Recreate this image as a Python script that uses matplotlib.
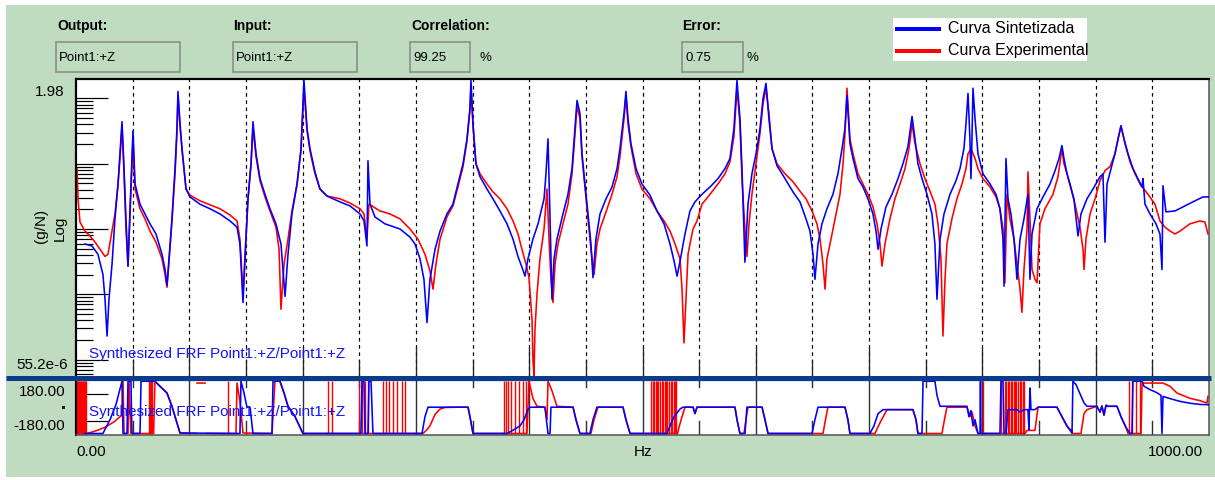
import numpy as np
import matplotlib
matplotlib.use('Agg')
import matplotlib.pyplot as plt
from matplotlib.lines import Line2D
from matplotlib.patches import Rectangle
from matplotlib.ticker import LogLocator, FixedLocator, NullFormatter

plt.rcParams['font.family'] = ['Liberation Sans', 'DejaVu Sans']

# ---------------- data ----------------
# Synthesized FRF magnitude (Hz, g/N)
blue_mag_hz = [
    7.9, 14.1, 19.4, 23.8, 25.6, 27.4, 29.1, 31.8, 34.4, 37.1,
    38.8, 40.6, 42.4, 44.1, 45.9, 47.7, 49.4, 50.3, 52.1, 56.5,
    60.9, 65.3, 70.6, 75.9, 78.6, 80.3, 82.1, 84.7, 87.4, 89.1,
    90.0, 91.8, 93.6, 97.1, 100.6, 109.4, 118.3, 127.1, 135.9, 142.1,
    144.7, 147.4, 150.0, 151.8, 154.5, 156.2, 158.9, 162.4, 166.8, 171.2,
    176.5, 180.9, 184.5, 187.1, 190.6, 195.1, 198.6, 201.2, 203.9, 206.5,
    210.9, 215.3, 221.5, 233.0, 241.8, 250.7, 254.2, 256.8, 257.7, 259.5,
    263.9, 272.7, 286.0, 294.8, 299.2, 303.6, 307.1, 309.8, 312.4, 316.9,
    321.3, 327.4, 332.7, 337.1, 341.6, 345.1, 347.7, 348.6, 350.4, 353.0,
    356.6, 362.7, 368.0, 374.2, 380.4, 385.7, 390.1, 393.6, 396.3, 398.9,
    403.3, 407.8, 413.1, 414.8, 416.6, 418.4, 420.1, 421.9, 424.5, 429.8,
    434.2, 437.8, 440.4, 442.2, 444.8, 446.6, 449.2, 451.9, 454.5, 456.3,
    458.9, 462.5, 467.8, 473.1, 477.5, 480.1, 483.7, 485.4, 487.2, 489.8,
    494.3, 499.5, 506.6, 512.8, 519.0, 524.3, 527.9, 530.5, 533.1, 537.5,
    541.9, 546.3, 552.5, 559.6, 566.6, 572.8, 577.2, 580.7, 583.4, 586.0,
    587.8, 590.4, 593.1, 596.6, 600.2, 603.7, 606.4, 609.0, 611.6, 614.3,
    618.7, 625.8, 632.8, 639.0, 644.3, 647.8, 650.5, 652.2, 654.9, 658.4,
    662.8, 668.1, 672.5, 676.1, 678.7, 680.5, 683.1, 685.8, 690.2, 694.6,
    699.0, 703.4, 706.1, 707.9, 710.5, 714.9, 720.2, 725.5, 729.9, 734.3,
    737.0, 737.9, 740.5, 743.1, 746.7, 751.1, 755.5, 758.1, 759.9, 762.6,
    766.1, 771.4, 776.7, 780.2, 783.7, 785.5, 787.3, 789.0, 789.9, 790.8,
    791.7, 793.5, 796.1, 800.5, 806.7, 812.0, 815.5, 818.2, 819.1, 819.9,
    820.8, 822.6, 825.2, 827.9, 830.5, 833.2, 836.7, 840.2, 842.0, 843.8,
    848.2, 853.5, 859.7, 864.1, 867.6, 870.2, 872.0, 874.7, 877.3, 880.8,
    884.4, 887.0, 892.3, 897.6, 903.8, 906.4, 908.2, 910.0, 913.5, 917.0,
    919.7, 922.3, 925.0, 928.5, 932.9, 937.3, 940.9, 941.7, 943.5, 947.9,
    953.2, 956.7, 958.5, 959.4, 962.0, 970.0, 978.8, 987.6, 994.7, 1000.0]
blue_mag = [
    0.0059, 0.0055, 0.0041, 0.0020, 0.00084, 0.00023, 0.00084, 0.0029, 0.0143, 0.049,
    0.142, 0.44, 0.084, 0.0143, 0.0027, 0.0204, 0.12, 0.32, 0.049, 0.024,
    0.017, 0.012, 0.0084, 0.0041, 0.0024, 0.00137, 0.0035, 0.0143, 0.084, 0.345,
    1.28, 0.41, 0.17, 0.041, 0.031, 0.024, 0.0204, 0.017, 0.0133, 0.0107,
    0.0059, 0.00075, 0.0070, 0.029, 0.10, 0.44, 0.142, 0.059, 0.034, 0.0204,
    0.012, 0.0059, 0.00093, 0.0041, 0.017, 0.049, 0.17, 1.89, 0.345, 0.17,
    0.075, 0.041, 0.032, 0.026, 0.0226, 0.017, 0.0133, 0.0055, 0.111, 0.024,
    0.0153, 0.012, 0.010, 0.0075, 0.0059, 0.0035, 0.0017, 0.00037, 0.0017, 0.0049,
    0.0093, 0.017, 0.024, 0.049, 0.10, 0.24, 0.70, 1.89, 0.41, 0.10,
    0.063, 0.041, 0.029, 0.0189, 0.012, 0.0070, 0.0038, 0.0026, 0.0019, 0.0035,
    0.0070, 0.012, 0.029, 0.070, 0.24, 0.0143, 0.00084, 0.0035, 0.0070, 0.017,
    0.034, 0.084, 0.345, 0.93, 0.59, 0.142, 0.049, 0.017, 0.0059, 0.0018,
    0.0070, 0.017, 0.029, 0.044, 0.084, 0.17, 0.59, 1.28, 0.49, 0.203,
    0.084, 0.049, 0.033, 0.0189, 0.012, 0.0059, 0.0032, 0.0019, 0.0032, 0.0084,
    0.0189, 0.026, 0.034, 0.044, 0.059, 0.084, 0.12, 0.345, 1.89, 0.49,
    0.084, 0.0031, 0.024, 0.070, 0.142, 0.345, 1.0, 1.70, 0.49, 0.17,
    0.093, 0.059, 0.037, 0.026, 0.0143, 0.0093, 0.0041, 0.0017, 0.0059, 0.012,
    0.0204, 0.034, 0.070, 0.17, 0.345, 1.11, 0.203, 0.12, 0.059, 0.044,
    0.029, 0.017, 0.0093, 0.0049, 0.010, 0.0218, 0.034, 0.059, 0.10, 0.183,
    0.41, 0.53, 0.24, 0.10, 0.059, 0.034, 0.017, 0.0059, 0.00084, 0.0070,
    0.017, 0.034, 0.055, 0.084, 0.17, 0.41, 1.19, 0.24, 0.059, 0.24,
    1.43, 0.49, 0.142, 0.070, 0.049, 0.034, 0.0204, 0.0070, 0.00133, 0.010,
    0.12, 0.029, 0.017, 0.0070, 0.0017, 0.0070, 0.0143, 0.034, 0.0017, 0.0084,
    0.0204, 0.031, 0.049, 0.078, 0.12, 0.19, 0.12, 0.070, 0.049, 0.029,
    0.0078, 0.017, 0.029, 0.041, 0.063, 0.070, 0.0063, 0.049, 0.084, 0.142,
    0.24, 0.38, 0.24, 0.142, 0.084, 0.059, 0.044, 0.059, 0.024, 0.017,
    0.012, 0.0084, 0.0024, 0.046, 0.0183, 0.0189, 0.0226, 0.027, 0.031, 0.031]

# Experimental FRF magnitude (Hz, g/N)
red_mag_hz = [
    0.9, 1.8, 3.5, 7.9, 12.4, 16.8, 21.2, 25.6, 28.2, 31.8,
    34.4, 37.1, 38.8, 40.6, 42.4, 44.1, 45.9, 47.7, 49.4, 50.3,
    52.1, 56.5, 60.9, 65.3, 70.6, 75.9, 78.6, 80.3, 82.1, 84.7,
    87.4, 89.1, 90.0, 91.8, 93.6, 97.1, 100.6, 109.4, 118.3, 127.1,
    135.9, 142.1, 144.7, 147.4, 150.0, 151.8, 154.5, 156.2, 158.9, 162.4,
    166.8, 171.2, 176.5, 179.2, 180.9, 183.6, 187.1, 190.6, 195.1, 198.6,
    201.2, 203.9, 206.5, 210.9, 215.3, 221.5, 233.0, 241.8, 250.7, 254.2,
    256.8, 258.6, 261.2, 268.3, 277.1, 286.0, 294.8, 301.8, 308.0, 312.4,
    315.1, 317.7, 321.3, 327.4, 332.7, 337.1, 341.6, 345.1, 347.7, 348.6,
    350.4, 353.0, 356.6, 362.7, 368.0, 374.2, 380.4, 385.7, 390.1, 393.6,
    397.2, 399.8, 402.5, 403.3, 404.2, 405.1, 406.9, 409.5, 413.1, 415.7,
    417.5, 419.2, 421.0, 422.8, 425.4, 429.8, 434.2, 437.8, 440.4, 442.2,
    444.8, 446.6, 449.2, 451.9, 454.5, 457.2, 459.8, 462.5, 467.8, 473.1,
    477.5, 480.1, 483.7, 485.4, 487.2, 489.8, 494.3, 499.5, 506.6, 512.8,
    519.0, 524.3, 528.7, 533.1, 534.9, 536.6, 538.4, 540.2, 541.9, 544.6,
    548.1, 552.5, 559.6, 566.6, 572.8, 577.2, 580.7, 583.4, 586.0, 587.8,
    590.4, 592.2, 594.0, 596.6, 600.2, 603.7, 606.4, 609.0, 611.6, 614.3,
    618.7, 625.8, 632.8, 639.0, 644.3, 649.6, 654.0, 656.7, 659.3, 661.1,
    662.8, 665.5, 669.9, 674.3, 677.0, 678.7, 680.5, 683.1, 685.8, 690.2,
    694.6, 699.0, 703.4, 707.0, 709.6, 711.4, 714.0, 718.4, 722.8, 727.3,
    731.7, 735.2, 737.9, 740.5, 744.9, 749.3, 753.7, 758.1, 760.8, 763.4,
    765.2, 767.0, 768.7, 773.1, 777.5, 782.0, 785.5, 787.3, 789.9, 793.5,
    796.1, 800.5, 806.7, 812.0, 815.5, 818.2, 819.9, 821.7, 824.3, 827.9,
    830.5, 833.2, 834.9, 836.7, 839.4, 840.2, 842.0, 843.8, 846.4, 848.2,
    850.8, 855.2, 862.3, 866.7, 870.2, 872.0, 874.7, 878.2, 881.7, 886.1,
    888.8, 889.7, 891.4, 895.0, 899.4, 903.8, 908.2, 912.6, 917.0, 922.3,
    925.8, 930.3, 934.7, 939.1, 946.1, 952.3, 956.7, 961.1, 965.6, 970.0,
    974.4, 983.2, 992.0, 996.4, 999.1]
red_mag = [
    0.084, 0.029, 0.0128, 0.0093, 0.0078, 0.0063, 0.0049, 0.0038, 0.0041, 0.0093,
    0.017, 0.049, 0.12, 0.37, 0.070, 0.010, 0.0027, 0.017, 0.10, 0.24,
    0.041, 0.0204, 0.0143, 0.0093, 0.0063, 0.0035, 0.0020, 0.00128, 0.0032, 0.0133,
    0.070, 0.29, 1.11, 0.37, 0.158, 0.041, 0.033, 0.027, 0.0235, 0.0204,
    0.0164, 0.0133, 0.0070, 0.00101, 0.0075, 0.029, 0.10, 0.345, 0.128, 0.055,
    0.031, 0.0189, 0.0107, 0.0049, 0.00059, 0.0029, 0.0070, 0.0189, 0.049, 0.158,
    1.43, 0.32, 0.158, 0.070, 0.041, 0.032, 0.029, 0.025, 0.0204, 0.017,
    0.0070, 0.024, 0.0226, 0.0189, 0.017, 0.0143, 0.010, 0.0070, 0.0041, 0.0023,
    0.0012, 0.0029, 0.0070, 0.0153, 0.0226, 0.044, 0.09, 0.226, 0.65, 1.53,
    0.37, 0.10, 0.070, 0.049, 0.037, 0.029, 0.0204, 0.0133, 0.0084, 0.0049,
    0.0029, 0.0018, 0.00041, 0.0001, 0.000056, 0.00029, 0.00101, 0.0035, 0.010, 0.041,
    0.0070, 0.0017, 0.00075, 0.0029, 0.0059, 0.012, 0.024, 0.070, 0.29, 0.75,
    0.49, 0.128, 0.044, 0.0143, 0.0049, 0.0020, 0.0059, 0.010, 0.0183, 0.034,
    0.063, 0.128, 0.49, 1.07, 0.41, 0.183, 0.070, 0.041, 0.029, 0.0189,
    0.0133, 0.0093, 0.0059, 0.0035, 0.0012, 0.00018, 0.00084, 0.0041, 0.0059, 0.010,
    0.0133, 0.024, 0.034, 0.049, 0.070, 0.107, 0.26, 1.43, 0.41, 0.059,
    0.010, 0.0038, 0.012, 0.034, 0.10, 0.29, 0.84, 1.43, 0.59, 0.17,
    0.10, 0.070, 0.053, 0.038, 0.029, 0.0189, 0.012, 0.0070, 0.0029, 0.0012,
    0.0035, 0.0059, 0.0143, 0.034, 0.10, 0.29, 1.43, 0.24, 0.142, 0.070,
    0.049, 0.034, 0.0218, 0.012, 0.0059, 0.0027, 0.0059, 0.0143, 0.029, 0.049,
    0.084, 0.17, 0.41, 0.203, 0.10, 0.059, 0.038, 0.024, 0.012, 0.0035,
    0.00023, 0.0017, 0.0059, 0.0143, 0.029, 0.049, 0.084, 0.142, 0.17, 0.12,
    0.084, 0.059, 0.044, 0.031, 0.0204, 0.010, 0.0015, 0.034, 0.0143, 0.0070,
    0.0029, 0.0012, 0.00053, 0.0024, 0.010, 0.075, 0.0143, 0.0024, 0.0017, 0.0015,
    0.012, 0.0204, 0.034, 0.063, 0.17, 0.10, 0.070, 0.041, 0.024, 0.0107,
    0.0049, 0.0024, 0.0070, 0.017, 0.029, 0.055, 0.078, 0.09, 0.142, 0.38,
    0.203, 0.107, 0.070, 0.049, 0.034, 0.024, 0.0133, 0.0107, 0.0093, 0.0084,
    0.0093, 0.012, 0.0133, 0.0128, 0.0084]

# Synthesized FRF phase (Hz, degrees)
blue_ph_hz = [
    7.9, 23.8, 26.5, 30.0, 35.3, 40.6, 41.5, 45.0, 45.9, 48.5,
    49.4, 56.5, 57.4, 69.7, 74.1, 80.3, 84.7, 89.1, 91.8, 144.7,
    145.6, 148.3, 150.9, 153.6, 156.2, 173.0, 173.9, 180.0, 183.6, 187.1,
    193.3, 200.3, 251.5, 252.4, 254.2, 255.1, 257.7, 258.6, 260.4, 262.1,
    305.4, 308.0, 310.7, 346.0, 347.7, 350.4, 380.4, 386.6, 391.9, 395.4,
    398.9, 400.7, 413.9, 416.6, 418.4, 419.2, 438.7, 441.3, 444.8, 453.6,
    456.3, 459.8, 482.8, 485.4, 489.0, 521.6, 524.3, 527.9, 533.1, 535.7,
    544.6, 546.3, 548.1, 581.6, 583.4, 586.0, 590.4, 592.2, 605.5, 608.1,
    610.8, 649.6, 652.2, 654.9, 678.7, 681.3, 683.1, 700.8, 704.3, 707.9,
    712.3, 738.7, 741.4, 743.1, 746.7, 747.6, 758.1, 759.9, 762.6, 786.4,
    788.1, 789.9, 791.7, 793.5, 796.1, 797.9, 798.3, 798.7, 815.5, 816.4,
    818.2, 819.1, 820.8, 822.6, 830.5, 833.2, 836.7, 840.2, 841.1, 842.0,
    842.9, 846.4, 849.1, 865.8, 870.2, 874.7, 878.2, 879.1, 879.9, 882.6,
    886.1, 889.7, 892.3, 901.1, 903.8, 905.5, 907.3, 909.1, 910.8, 918.8,
    922.3, 926.7, 930.3, 932.0, 932.9, 940.9, 942.6, 947.9, 953.2, 957.6,
    958.5, 959.4, 963.8, 974.4, 983.2, 992.0, 1000.0]
blue_ph = [
    -170, -170, -130, -80, 20, 172, -170, -170, 172, 172,
    -170, -170, 172, 172, 139, 95, 8, -101, -167, -170,
    172, 95, 2, 2, -170, -170, 172, 172, 95, 8,
    -60, -170, -170, 172, 172, -170, -170, 172, 172, -170,
    -170, -60, 2, 2, -60, -170, -170, -145, -120, -80,
    -14, 2, 2, -170, -170, 2, 2, -80, -170, -170,
    -80, 2, 2, -80, -170, -170, -120, -60, -10, 2,
    2, -40, 2, 2, -80, -170, -170, 2, 2, -80,
    -170, -170, -80, 2, 2, -80, -170, -170, -120, -40,
    -14, -14, -80, -170, -170, 172, 172, 80, 8, 8,
    -60, -20, -120, -80, -170, -170, 172, -170, -170, 172,
    172, -170, -170, -14, -14, -30, -14, -14, -145, 128,
    -14, -14, 2, 2, -60, -123, -150, -167, 172, 150,
    90, 30, 8, 8, -30, 10, -50, 15, 8, 8,
    -60, -130, -170, -170, 172, 172, 139, 117, 100, 80,
    -170, 73, 62, 40, 28, 20, 18]

# Experimental FRF phase (Hz, degrees); NaN = gap in the trace
nan = float('nan')
red_ph_hz = [
    0.4, 9.7, 16.8, 25.6, 34.4, 38.8, 40.6, 41.5, 42.4, 45.9,
    46.8, 48.5, 68.5, 69.7, 74.1, 80.3, 84.7, 89.1, 91.8, 106.0,
    106.4, 106.8, 113.9, 114.2, 114.5, 141.2, 142.1, 144.7, 147.4, 173.0,
    175.6, 180.0, 183.6, 187.1, 193.3, 200.3, 306.3, 309.8, 312.4, 316.9,
    321.3, 325.7, 336.3, 346.0, 347.7, 350.4, 398.0, 399.8, 403.3, 406.9,
    413.9, 415.7, 416.6, 420.1, 424.5, 438.7, 441.3, 444.8, 454.5, 457.2,
    460.7, 482.8, 485.4, 489.0, 531.0, 532.2, 534.9, 537.5, 544.6, 546.3,
    548.1, 581.6, 583.4, 586.0, 589.6, 591.3, 593.1, 605.5, 608.1, 610.8,
    659.3, 662.0, 663.7, 678.7, 681.3, 683.1, 705.2, 709.6, 715.8, 738.7,
    741.4, 743.1, 764.3, 767.0, 768.7, 786.4, 789.0, 790.8, 793.5, 796.1,
    837.6, 839.4, 846.4, 849.1, 865.8, 870.2, 875.5, 879.1, 887.0, 889.7,
    892.3, 901.1, 903.8, 905.5, 907.3, 909.1, 910.8, 918.8, 922.3, 926.7,
    928.5, 940.0, 940.9, 959.4, 965.6, 971.7, 983.2, 992.0, 998.2, 999.1]
red_ph = [
    -170, -170, -155, -130, -90, -60, -50, 172, -170, -170,
    172, -170, -170, 172, 139, 95, 8, -101, -167, -170,
    nan, 160, 160, nan, -170, -170, 160, 40, -167, -170,
    172, 172, 95, 8, -60, -170, -170, -145, -120, -45,
    -10, 0, 2, 2, -60, -170, -170, 172, 60, 8,
    2, -80, 172, 110, 8, 2, -80, -170, -170, -80,
    2, 2, -80, -170, -170, -130, -60, 2, 2, -40,
    2, 2, -80, -170, -170, -80, 2, 2, -80, -170,
    -170, -60, 2, 2, -80, -170, -170, -100, -14, -14,
    -80, -170, -170, -60, 2, 2, -60, -30, -120, -170,
    -170, -150, -150, 2, 2, -60, -130, -170, -170, -40,
    -14, 8, -30, 10, -50, 15, 8, 8, -60, -130,
    -170, -170, 160, 160, 139, 95, 60, 45, 29, 73]

# full-height phase-wrap spikes of the experimental trace (Hz)
red_ph_spike_hz = [
    0.5, 1.4, 2.3, 3.2, 4.1, 5.0, 6.0, 7.0, 8.0, 9.0,
    64.4, 65.3, 66.2, 67.1, 134.2, 222.4, 225.9,
    249.8, 252.4, 255.1, 257.7,
    270.9, 273.6, 276.3, 279.8, 283.3, 287.7, 290.4,
    377.7, 379.5, 381.3, 383.9, 387.5, 391.0, 394.5, 397.2,
    507.5, 509.0, 510.1, 511.5, 512.8, 514.0, 515.4, 517.0, 518.1,
    519.5, 520.7, 522.0, 523.4, 525.0, 526.0, 527.5, 528.7, 530.0,
    800.9, 816.4, 819.9, 821.0, 822.5, 823.4, 825.0, 826.1, 827.5,
    828.8, 830.0, 831.4, 832.8, 834.0, 835.5, 836.7,
    929.4, 932.0, 935.6, 939.1]

grid_hz = [50, 100, 150, 200, 250, 300, 350, 400, 450, 500,
           550, 600, 650, 700, 750, 800, 850, 900, 950]
major_hz = [100, 200, 300, 400, 500, 600, 700, 800, 900]
minor_hz = [50, 150, 250, 350, 450, 550, 650, 750, 850, 950]

legend_labels = ['Curva Sintetizada', 'Curva Experimental']
trace_title = 'Synthesized FRF Point1:+Z/Point1:+Z'

# ---------------- layout helpers (figure pixels) ----------------
W, H = 1215, 481
fig = plt.figure(figsize=(W / 100, H / 100), dpi=100)
fig.patch.set_facecolor('white')


def fx(x):
    return x / W


def fy(y):
    return 1 - y / H


def pt(p):
    return p * 0.72


GREEN = '#C0DCC0'
BLUE = '#0000FF'
RED = '#FF0000'

fig.add_artist(Rectangle((fx(6), fy(478)), fx(1215) - fx(6), fy(6) - fy(478),
                         transform=fig.transFigure, facecolor=GREEN,
                         edgecolor='none', zorder=0))

# ---------------- magnitude panel ----------------
ax = fig.add_axes([fx(76), fy(377.5), fx(1209) - fx(76), fy(80) - fy(377.5)])
ax.set_facecolor('white')
ax.set_yscale('log')
ax.set_xlim(0, 1000)
ax.set_ylim(55.2e-6, 1.98)
for f in grid_hz:
    ax.axvline(f, color='black', lw=pt(1.2), ls=(0, (3, 3)), zorder=1)
ax.plot(red_mag_hz, red_mag, color=RED, lw=pt(1.6), zorder=2)
ax.plot(blue_mag_hz, blue_mag, color=BLUE, lw=pt(1.6), zorder=3)
ax.xaxis.set_major_locator(FixedLocator(major_hz))
ax.xaxis.set_minor_locator(FixedLocator(minor_hz))
ax.xaxis.set_major_formatter(NullFormatter())
ax.xaxis.set_minor_formatter(NullFormatter())
ax.tick_params(axis='x', which='major', direction='in', length=pt(30),
               width=pt(1.3), color='#222222', bottom=True, top=False)
ax.tick_params(axis='x', which='minor', direction='in', length=pt(17),
               width=pt(1.3), color='#222222', bottom=True, top=False)
ax.yaxis.set_major_locator(LogLocator(base=10, numticks=20))
ax.yaxis.set_minor_locator(LogLocator(base=10, subs=np.arange(2, 10), numticks=20))
ax.yaxis.set_major_formatter(NullFormatter())
ax.yaxis.set_minor_formatter(NullFormatter())
ax.tick_params(axis='y', which='major', direction='in', length=pt(32),
               width=pt(1.2), color='black', left=True, right=False)
ax.tick_params(axis='y', which='minor', direction='in', length=pt(17),
               width=pt(1.2), color='black', left=True, right=False)
for s in ['left', 'top']:
    ax.spines[s].set_linewidth(pt(2.2))
    ax.spines[s].set_color('black')
for s in ['right', 'bottom']:
    ax.spines[s].set_linewidth(pt(1.5))
    ax.spines[s].set_color('#505050')
fig.text(fx(89), fy(354), trace_title, color='#1515F5', fontsize=11,
         ha='left', va='center', zorder=10)

# ---------------- phase panel ----------------
axp = fig.add_axes([fx(76), fy(436), fx(1209) - fx(76), fy(381) - fy(436)])
axp.set_facecolor('white')
axp.set_xlim(0, 1000)
axp.set_ylim(-180, 180)
for f in major_hz:
    axp.axvline(f, color='#303030', lw=pt(1.4), zorder=1)
for f in minor_hz:
    axp.axvline(f, ymin=0.0, ymax=0.26, color='#303030', lw=pt(1.4), zorder=1)
    axp.axvline(f, ymin=0.88, ymax=1.0, color='#303030', lw=pt(1.4), zorder=1)
axp.vlines(red_ph_spike_hz, -172, 172, color=RED, lw=pt(1.4), zorder=2)
axp.plot(red_ph_hz, red_ph, color=RED, lw=pt(1.6), zorder=2)
axp.plot(blue_ph_hz, blue_ph, color=BLUE, lw=pt(1.6), zorder=3)
axp.set_xticks([])
axp.yaxis.set_major_locator(FixedLocator([-90, 90]))
axp.yaxis.set_minor_locator(FixedLocator(list(range(-165, 180, 15))))
axp.yaxis.set_major_formatter(NullFormatter())
axp.yaxis.set_minor_formatter(NullFormatter())
axp.tick_params(axis='y', which='major', direction='in', length=pt(32),
                width=pt(1.2), color='black', left=True, right=False)
axp.tick_params(axis='y', which='minor', direction='in', length=pt(10),
                width=pt(1.2), color='black', left=True, right=False)
for s in ['left', 'top']:
    axp.spines[s].set_linewidth(pt(2.2))
    axp.spines[s].set_color('black')
for s in ['right', 'bottom']:
    axp.spines[s].set_linewidth(pt(1.5))
    axp.spines[s].set_color('#505050')
fig.text(fx(89), fy(412), trace_title, color='#1515F5', fontsize=11,
         ha='left', va='center', zorder=10)

# separator bar between panels
fig.add_artist(Line2D([fx(6), fx(1211)], [fy(378.5), fy(378.5)],
                      transform=fig.transFigure, color='#0B3B8C',
                      lw=pt(5), zorder=20, solid_capstyle='butt'))

# ---------------- axis texts ----------------
fs = 11
fig.text(fx(65), fy(92), '1.98', ha='right', va='center', fontsize=fs)
fig.text(fx(68), fy(365), '55.2e-6', ha='right', va='center', fontsize=fs)
fig.text(fx(41), fy(226), '(g/N)', rotation=90, ha='center', va='center', fontsize=fs)
fig.text(fx(60), fy(228), 'Log', rotation=90, ha='center', va='center', fontsize=fs)
fig.text(fx(65), fy(392), '180.00', ha='right', va='center', fontsize=fs)
fig.text(fx(65), fy(426), '-180.00', ha='right', va='center', fontsize=fs)
fig.add_artist(Rectangle((fx(61.5), fy(409.5)), fx(3), fy(0) - fy(3),
                         transform=fig.transFigure, facecolor='#202020',
                         edgecolor='none', zorder=5))
fig.text(fx(76), fy(452), '0.00', ha='left', va='center', fontsize=fs)
fig.text(fx(643), fy(452), 'Hz', ha='center', va='center', fontsize=fs)
fig.text(fx(1203), fy(452), '1000.00', ha='right', va='center', fontsize=fs)

# ---------------- header ----------------
header = [('Output:', 57), ('Input:', 233), ('Correlation:', 411), ('Error:', 682)]
for label, x in header:
    fig.text(fx(x), fy(26), label, ha='left', va='center', fontsize=10,
             fontweight='bold')
boxes = [(56, 180, 'Point1:+Z'), (233, 357, 'Point1:+Z'),
         (410, 470, '99.25'), (682, 743, '0.75')]
for x0, x1, txt in boxes:
    fig.add_artist(Rectangle((fx(x0), fy(73)), fx(x1) - fx(x0), fy(43) - fy(73),
                             transform=fig.transFigure, facecolor='none',
                             edgecolor='#8A8A8A', lw=pt(1.6), zorder=2))
    fig.text(fx(x0 + 3), fy(58), txt, ha='left', va='center', fontsize=9.5)
fig.text(fx(480), fy(58), '%', ha='left', va='center', fontsize=9.5)
fig.text(fx(746), fy(58), '%', ha='left', va='center', fontsize=9.5)

# legend box
fig.add_artist(Rectangle((fx(893), fy(62)), fx(1087) - fx(893), fy(19) - fy(62),
                         transform=fig.transFigure, facecolor='white',
                         edgecolor='none', zorder=2))
for (col, yy, lab) in [(BLUE, 30, legend_labels[0]), (RED, 52, legend_labels[1])]:
    fig.add_artist(Line2D([fx(895), fx(941)], [fy(yy), fy(yy)],
                          transform=fig.transFigure, color=col, lw=pt(4),
                          zorder=3, solid_capstyle='butt'))
    fig.text(fx(948), fy(yy - 1), lab, ha='left', va='center', fontsize=11.5,
             zorder=4)

fig.savefig('out.png', dpi=100, facecolor=fig.get_facecolor())
